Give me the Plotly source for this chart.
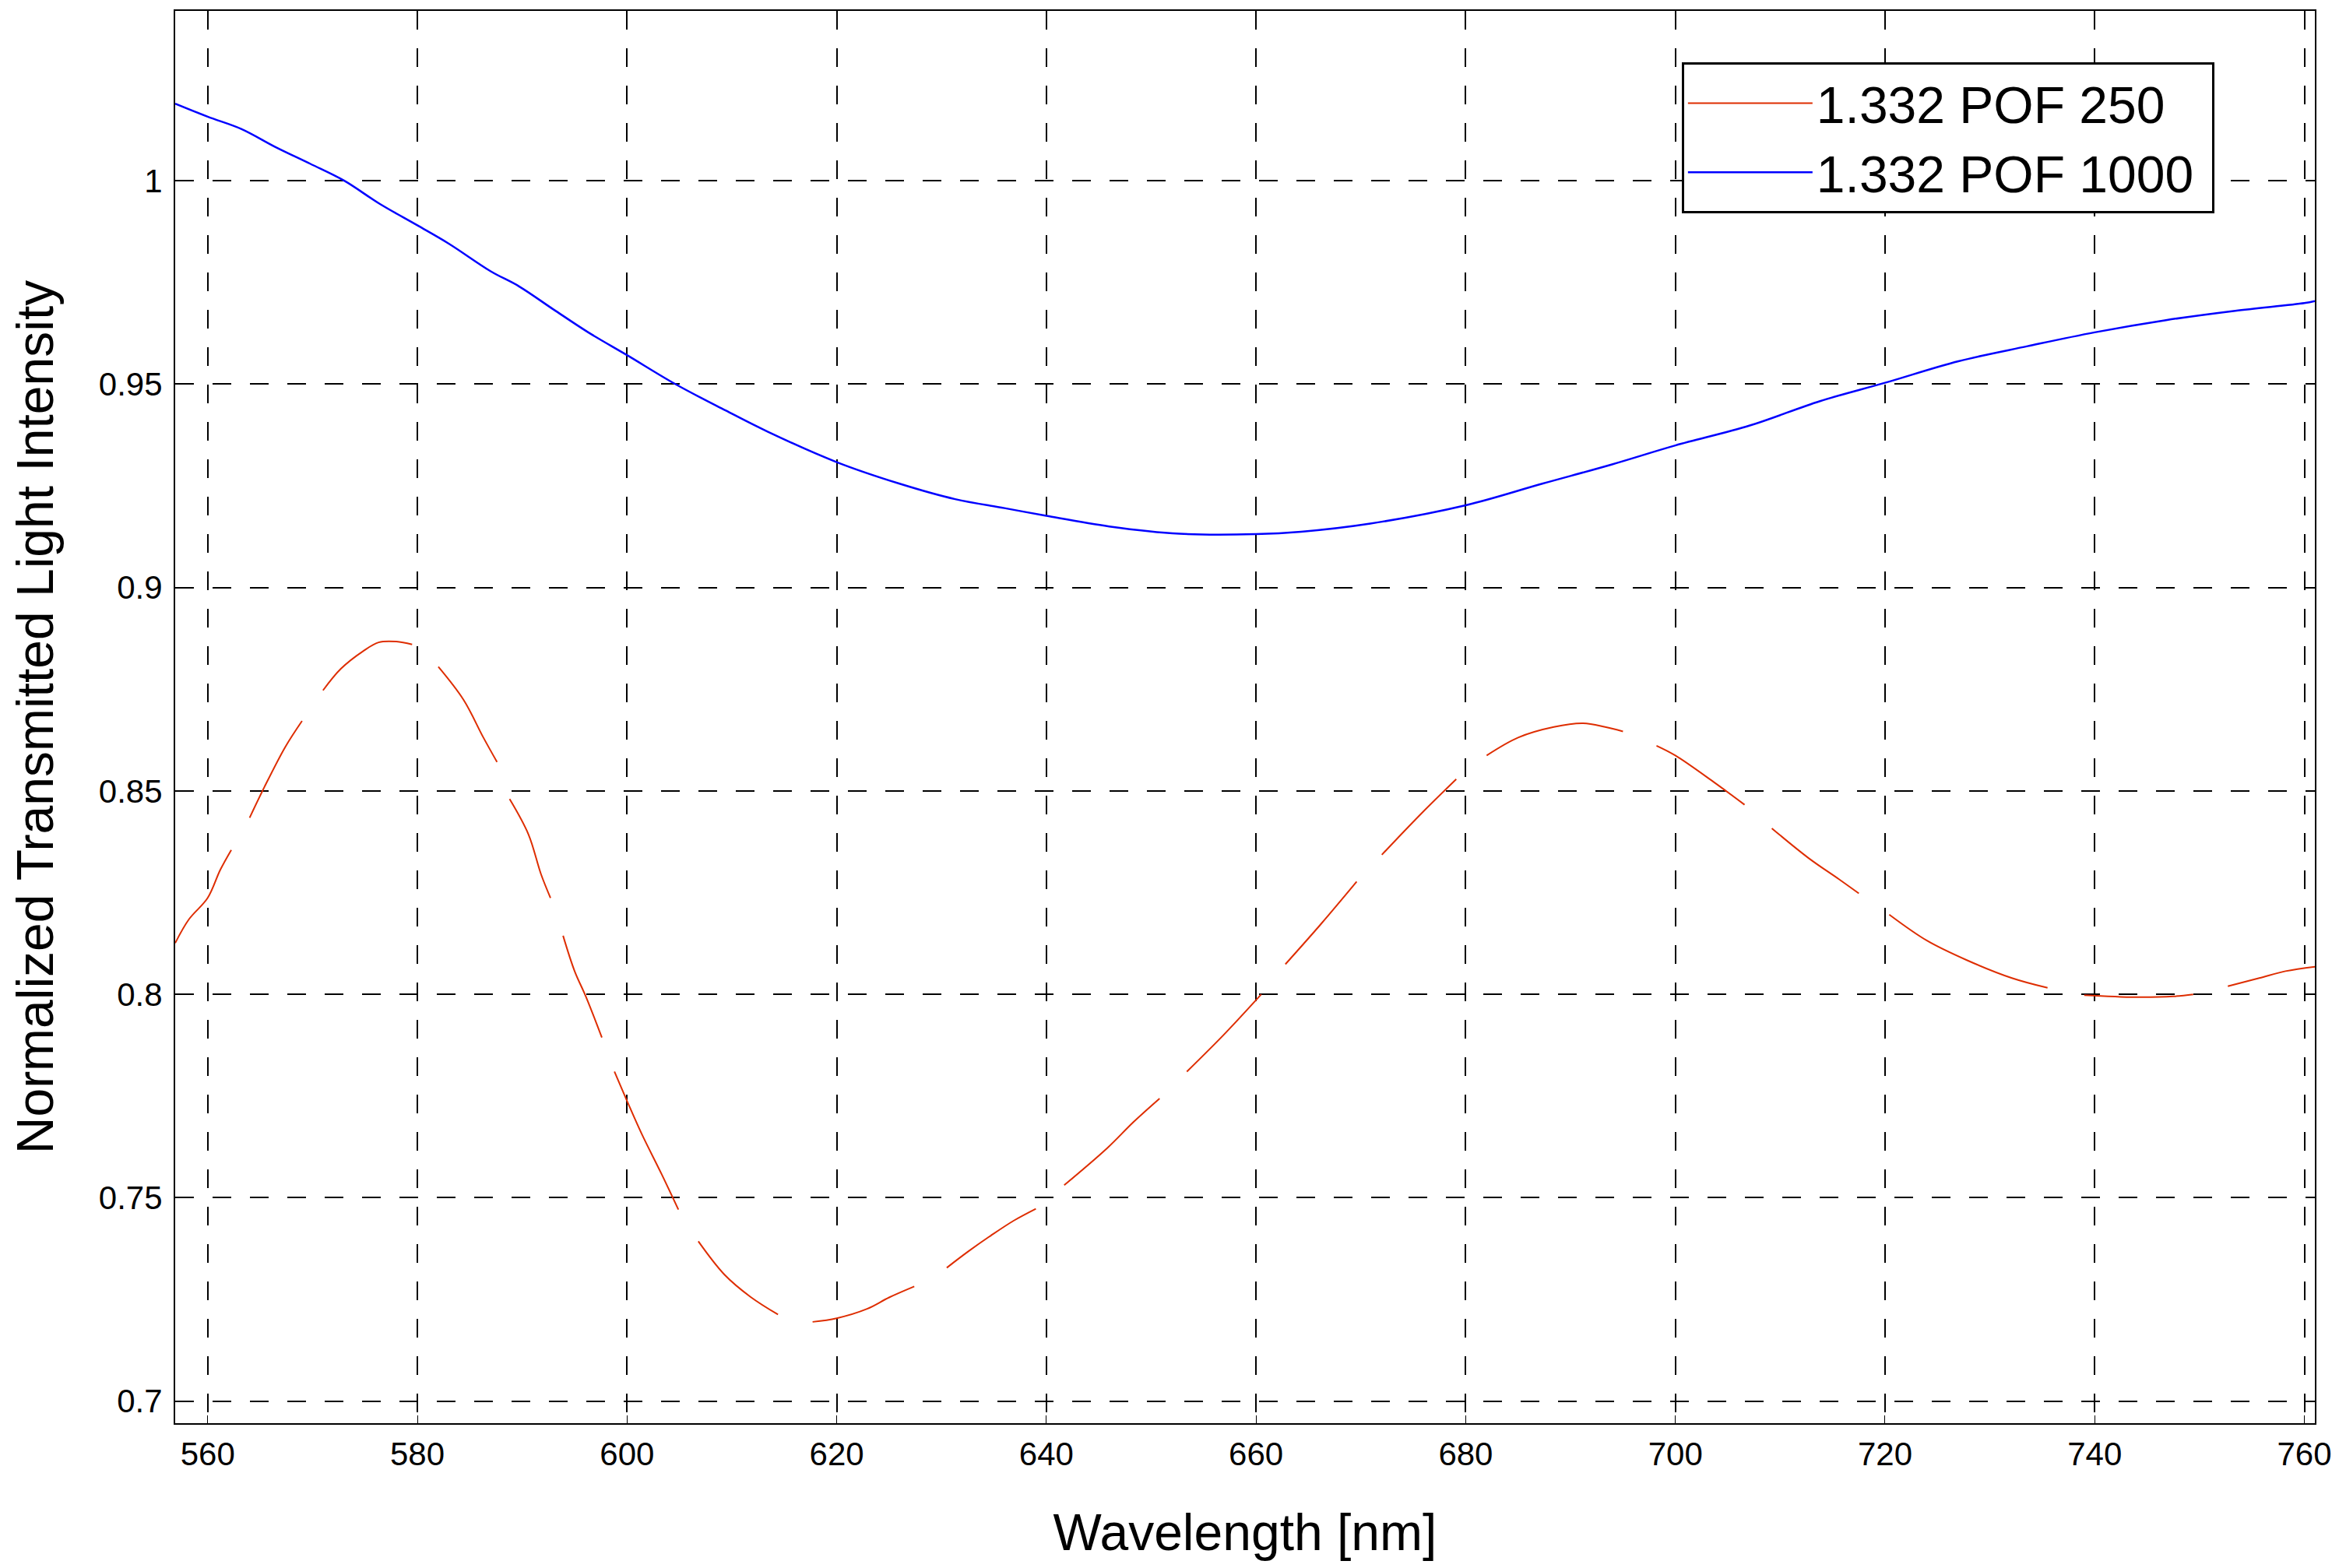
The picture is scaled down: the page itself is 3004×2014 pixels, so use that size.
import plotly.graph_objects as go

# wavelength [nm] and normalized intensity
pof1000_wl = [556.9, 560, 563.2, 566.5, 569.8, 573, 576.4, 580, 583, 587, 589.7, 593, 596.3, 600,
              604.6, 609.4, 613.4, 620, 626, 631.3, 636, 640, 646, 652.7, 660, 664.3, 670.9, 680,
              687.3, 693.9, 700, 707.1, 713.8, 720, 727, 733.6, 740, 746.8, 753.4, 760, 761]
pof1000_int = [1.0189, 1.0157, 1.0127, 1.0082, 1.0041, 1.0000, 0.9943, 0.9890, 0.9845, 0.9777, 0.9740,
               0.9683, 0.9627, 0.9571, 0.9500, 0.9435, 0.9383, 0.9308, 0.9255, 0.9217, 0.9195, 0.9176,
               0.9150, 0.9132, 0.9131, 0.9137, 0.9157, 0.9202, 0.9255, 0.9302, 0.9349, 0.9398, 0.9458,
               0.9503, 0.9556, 0.9593, 0.9627, 0.9657, 0.9680, 0.9699, 0.9704]

# the 250 trace is drawn broken in the original; None marks each gap
pof250_wl = [556.9, 558.2, 560, 561.2, 562.25, None,
             564.0, 565.4, 567.4, 569.0, None,
             571.0, 572.7, 574.8, 576.3, 578.0, 579.5, None,
             582.0, 584.4, 586.3, 587.6, None,
             588.8, 590.6, 591.8, 592.7, None,
             593.9, 595.0, 596.1, 597.6, None,
             598.8, 600.0, 601.4, 603.3, 604.9, None,
             606.8, 609.3, 611.8, 614.4, None,
             617.7, 620.0, 622.9, 625.0, 627.4, None,
             630.5, 632.6, 634.7, 636.9, 639.0, None,
             641.7, 645.8, 648.3, 650.8, None,
             653.4, 656.9, 660.5, None,
             662.8, 666.2, 669.6, None,
             672.0, 675.6, 679.1, None,
             682.0, 685.0, 688.4, 691.2, 693.3, 695.0, None,
             698.2, 700.0, 703.7, 706.6, None,
             709.2, 712.7, 715.6, 717.5, None,
             720.4, 724.0, 727.8, 732.1, 735.5, None,
             739.0, 743.9, 747.5, 749.4, None,
             752.7, 755.7, 758.2, 761.0]
pof250_int = [0.8126, 0.8184, 0.8237, 0.8306, 0.8355, None,
              0.8434, 0.8509, 0.8608, 0.8672, None,
              0.8747, 0.8800, 0.8843, 0.8865, 0.8867, 0.8860, None,
              0.8805, 0.8724, 0.8631, 0.8571, None,
              0.8480, 0.8393, 0.8295, 0.8237, None,
              0.8144, 0.8057, 0.7993, 0.7894, None,
              0.7810, 0.7738, 0.7657, 0.7558, 0.7471, None,
              0.7393, 0.7311, 0.7256, 0.7213, None,
              0.7195, 0.7204, 0.7227, 0.7255, 0.7282, None,
              0.7328, 0.7369, 0.7407, 0.7444, 0.7473, None,
              0.7531, 0.7622, 0.7686, 0.7744, None,
              0.7810, 0.7900, 0.8000, None,
              0.8074, 0.8173, 0.8277, None,
              0.8343, 0.8440, 0.8529, None,
              0.8587, 0.8631, 0.8657, 0.8666, 0.8657, 0.8646, None,
              0.8611, 0.8587, 0.8521, 0.8466, None,
              0.8408, 0.8335, 0.8283, 0.8248, None,
              0.8196, 0.8132, 0.8084, 0.8040, 0.8016, None,
              0.7998, 0.7993, 0.7995, 0.8000, None,
              0.8020, 0.8040, 0.8057, 0.8068]

x_ticks = [560, 580, 600, 620, 640, 660, 680, 700, 720, 740, 760]
y_ticks = [0.7, 0.75, 0.8, 0.85, 0.9, 0.95, 1]

font = "Arial, Liberation Sans, sans-serif"
nbsp = "\u00a0"  # a little room after the legend text

fig = go.Figure()
fig.add_trace(go.Scatter(
    x=pof250_wl, y=pof250_int, name="1.332 POF 250" + nbsp, mode="lines",
    connectgaps=False, line=dict(color="#de2d00", width=2, shape="spline")
))
fig.add_trace(go.Scatter(
    x=pof1000_wl, y=pof1000_int, name="1.332 POF 1000" + nbsp, mode="lines",
    line=dict(color="#0000ff", width=2.5, shape="spline")
))

axis_common = dict(
    showline=True, linecolor="black", linewidth=2, mirror="ticks",
    ticks="inside", ticklen=10, tickcolor="black", automargin=False,
    showgrid=True, gridcolor="black", gridwidth=2, griddash="24px,24px",
    zeroline=False, tickfont=dict(family=font, size=42, color="black"),
)

# page body adds an 8px margin, so the figure is 8px smaller than the window
fig.update_layout(
    width=2996, height=2006,
    margin=dict(l=217, r=31, t=6, b=186),
    paper_bgcolor="white", plot_bgcolor="white",
    font=dict(family=font, color="black"),
    xaxis=dict(range=[556.9, 761], tickvals=x_ticks, ticklabelstandoff=2,
               title=dict(text="Wavelength [nm]", font=dict(size=66), standoff=54),
               **axis_common),
    yaxis=dict(range=[0.6946, 1.0417], tickvals=y_ticks, ticklabelstandoff=6,
               title=dict(text="Normalized Transmitted Light Intensity", font=dict(size=66), standoff=47),
               **axis_common),
    legend=dict(x=0.953, y=0.9636, xanchor="right", yanchor="top",
                bgcolor="white", bordercolor="black", borderwidth=3,
                font=dict(family=font, size=66, color="black"),
                itemwidth=160, tracegroupgap=10),
    showlegend=True,
)

fig.write_html("out.html")
